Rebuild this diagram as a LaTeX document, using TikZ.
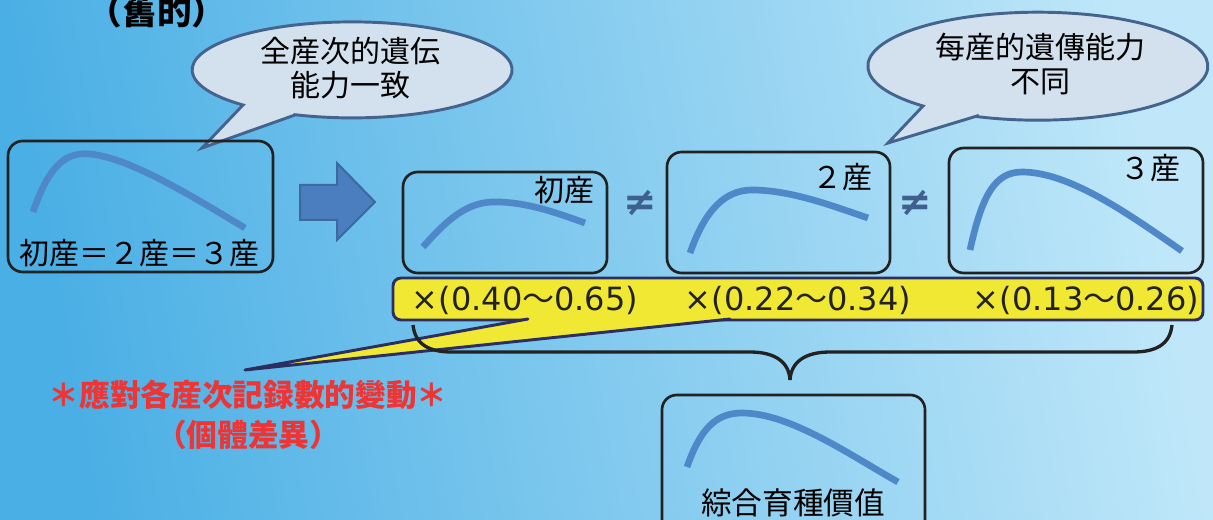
\documentclass[tikz,border=0pt]{standalone}
\usepackage{fontspec}
\setmainfont{Noto Sans CJK JP}
\newfontfamily\dv{DejaVu Sans}
\usetikzlibrary{fit}
\definecolor{bgA}{HTML}{4AAFE5}
\definecolor{bgB}{HTML}{BFE7F9}
\definecolor{crvc}{HTML}{4F88C8}
\definecolor{bubfill}{HTML}{D3E0EE}
\definecolor{bubline}{HTML}{44648E}
\definecolor{arrfill}{HTML}{4A7EBE}
\definecolor{arrline}{HTML}{3D68A0}
\definecolor{boxline}{HTML}{222222}
\definecolor{bandfill}{HTML}{F1E833}
\definecolor{bandline}{HTML}{2C2E62}
\definecolor{neqc}{HTML}{3F5F8F}
\definecolor{redtxt}{HTML}{EE3535}
\tikzset{
  box/.style={draw=boxline, line width=2pt, rounded corners=11pt, inner sep=0pt},
  crv/.style={draw=crvc, line width=5pt},
  lbl/.style={font=\fontsize{22.5}{26}\selectfont, text=black, inner sep=0pt},
  bub/.style={fill=bubfill, draw=bubline, line width=2.2pt, line join=miter},
  bandtxt/.style={font=\fontsize{24}{28}\selectfont, text=boxline, inner sep=0pt},
  neqsym/.style={font=\dv\bfseries\fontsize{30}{34}\selectfont, text=neqc, inner sep=0pt},
  redlbl/.style={font=\bfseries\fontsize{23}{27}\selectfont, text=redtxt, inner sep=0pt},
}
\begin{document}
\begin{tikzpicture}[x=0.75pt, y=-0.75pt]
\useasboundingbox (0,0) rectangle (1213,520);
\shade[left color=bgA, right color=bgB, shading angle=100] (0,0) rectangle (1213,520);

% title
\node[font=\bfseries\fontsize{26}{30}\selectfont, inner sep=0pt] (title) at (157,11) {（舊的）};

% left bubble
\draw[bub] (295,115) -- (202,148) -- (243,105)
  arc[start angle=133, end angle=470.9, x radius=160, y radius=48] -- cycle;
\node[lbl, align=center, font=\fontsize{22.5}{25}\selectfont] (bt1) at (350,68) {全産次的遺伝\\能力一致};

% right bubble
\draw[bub] (977,116) -- (888,143) -- (923,106)
  arc[start angle=132.5, end angle=471, x radius=170, y radius=54] -- cycle;
\node[lbl, align=center, font=\fontsize{22.5}{26}\selectfont] (bt2) at (1040,64) {每産的遺傳能力\\不同};

% left box
\node[box, fit={(8,141) (273,272)}] (b0) {};
\draw[crv] (33,212) .. controls (50,162) and (68,152) .. (90,154) .. controls (130,158) and (190,195) .. (245,228);
\node[lbl] (l0) at (139,253) {初産＝２産＝３産};

% big arrow
\filldraw[fill=arrfill, draw=arrline, line width=1.5pt] (300,185) -- (337,185) -- (337,163) -- (375,202) -- (337,240) -- (337,220) -- (300,220) -- cycle;

% three boxes
\node[box, fit={(403,172) (607,273)}] (b1) {};
\draw[crv] (423,247) .. controls (445,222) and (465,203) .. (492,202) .. controls (525,201) and (560,214) .. (585,223);
\node[lbl, anchor=east] (l1) at (595,190) {初産};

\node[neqsym] (n1) at (640,203) {≠};

\node[box, fit={(667,152) (890,273)}] (b2) {};
\draw[crv] (690,253) .. controls (705,210) and (725,190) .. (752,190) .. controls (790,190) and (830,205) .. (868,218);
\node[lbl, anchor=east] (l2) at (873,177) {２産};

\node[neqsym] (n2) at (915,203) {≠};

\node[box, fit={(949,148) (1203,273)}] (b3) {};
\draw[crv] (970,250) .. controls (982,195) and (995,172) .. (1022,172) .. controls (1070,172) and (1130,215) .. (1182,251);
\node[lbl, anchor=east] (l3) at (1181,168) {３産};

% yellow band with callout
\node[draw=bandline, fill=bandfill, line width=2.2pt, rounded corners=6pt, inner sep=0pt, fit={(393,278) (1203,320)}] (band) {};
\coordinate (tip) at (245,370);
\coordinate (ca) at (528,319);
\coordinate (cb) at (730,319);
\fill[bandfill] (528,312) -- (ca) -- (tip) -- (cb) -- (730,312) -- cycle;
\draw[bandline, line width=2.2pt, line join=round, line cap=round] (ca) -- (tip) -- (cb);
\node[bandtxt] (t1) at (525,300) {{\dv ×(0.40}～{\dv 0.65)}};
\node[bandtxt] (t2) at (798,300) {{\dv ×(0.22}～{\dv 0.34)}};
\node[bandtxt] (t3) at (1086,300) {{\dv ×(0.13}～{\dv 0.26)}};

% brace
\coordinate (bl) at (413,325);
\coordinate (br) at (1172,325);
\coordinate (bm) at (790,380);
\draw[boxline, line width=2.5pt] (bl) .. controls (415,345) and (430,352) .. (452,352) -- (750,352) .. controls (775,352) and (789,362) .. (bm);
\draw[boxline, line width=2.5pt] (br) .. controls (1170,345) and (1155,352) .. (1133,352) -- (830,352) .. controls (805,352) and (791,362) .. (bm);

% red text
\node[redlbl] (r1) at (248,395) {＊應對各産次記録數的變動＊};
\node[redlbl] (r2) at (248,435) {（個體差異）};

% bottom box
\node[box, fit={(662,395) (925,548)}] (b4) {};
\draw[crv] (687,467) .. controls (700,430) and (715,413) .. (742,413) .. controls (790,413) and (850,455) .. (898,482);
\node[lbl, font=\fontsize{23}{27}\selectfont] (l4) at (793,503) {綜合育種價值};
\end{tikzpicture}
\end{document}
